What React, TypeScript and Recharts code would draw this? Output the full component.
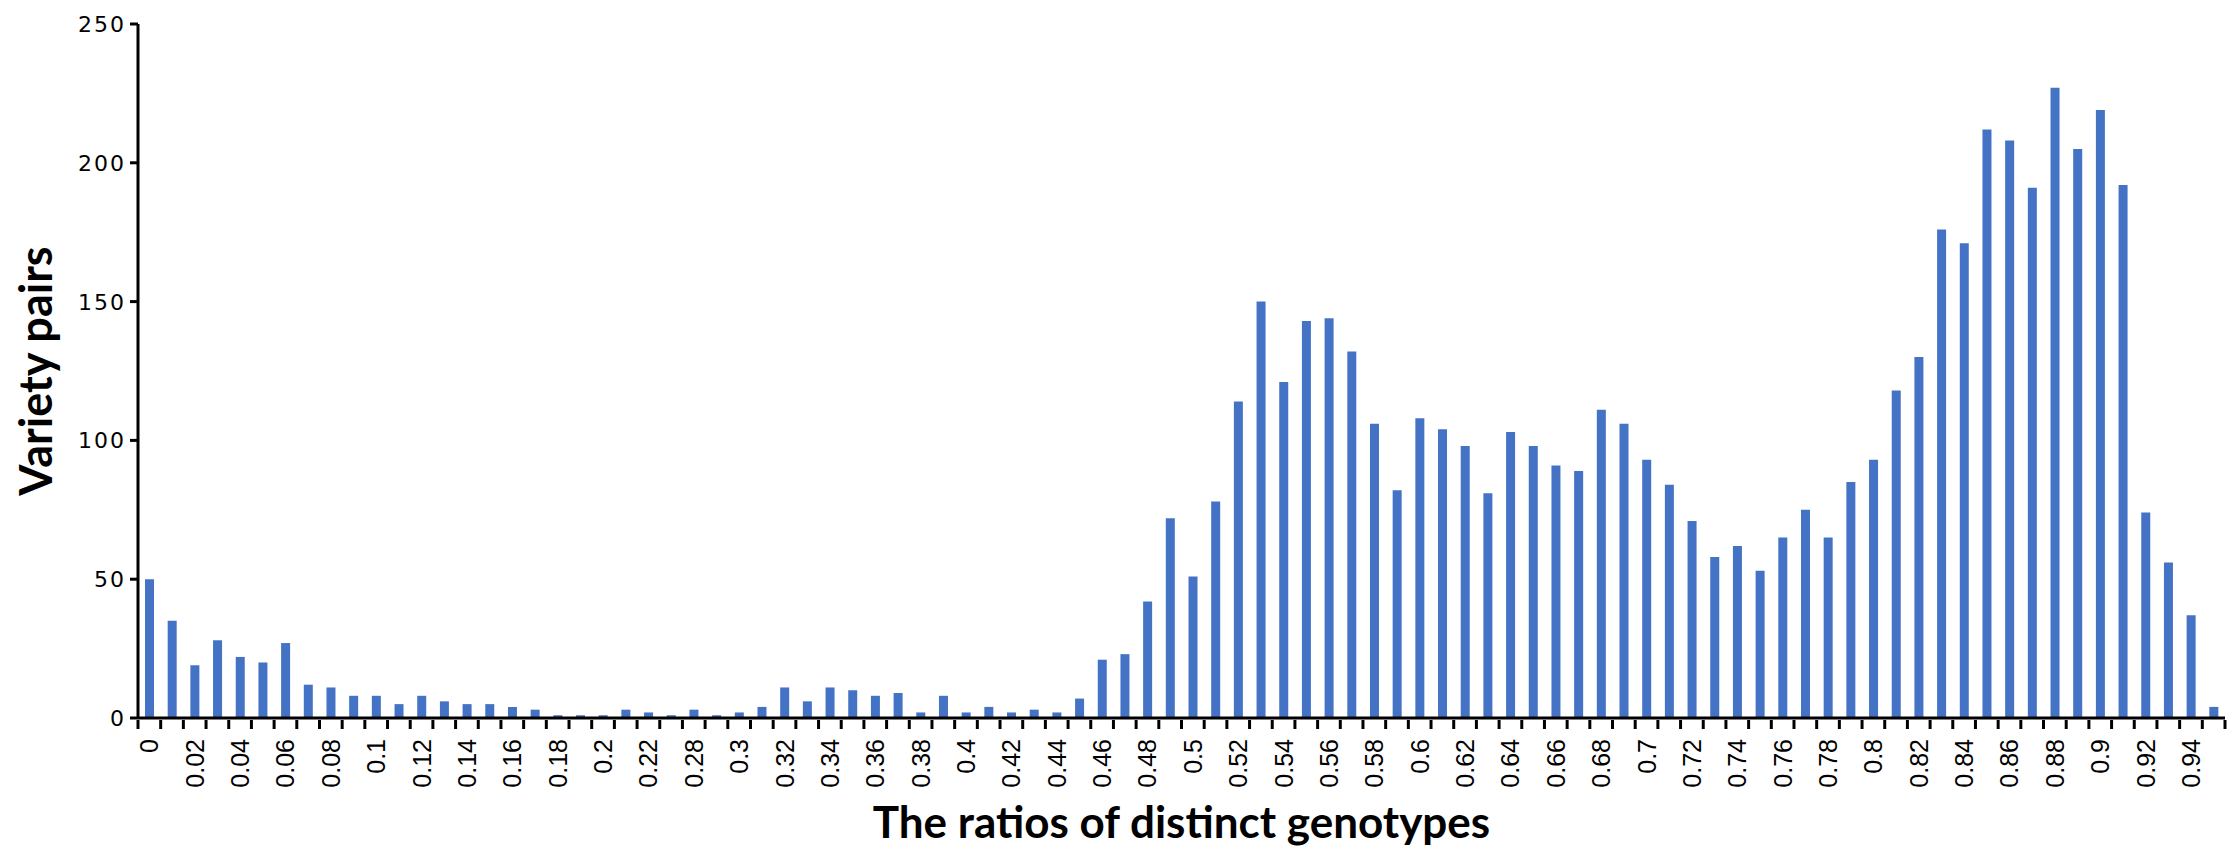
import React from 'react';
import { BarChart, Bar, XAxis, YAxis } from 'recharts';

// ratio categories (only every other one gets a printed label)
const ratios = [
  '0', '0.01', '0.02', '0.03', '0.04', '0.05', '0.06', '0.07', '0.08', '0.09',
  '0.1', '0.11', '0.12', '0.13', '0.14', '0.15', '0.16', '0.17', '0.18', '0.19',
  '0.2', '0.21', '0.22', '0.27', '0.28', '0.29',
  '0.3', '0.31', '0.32', '0.33', '0.34', '0.35', '0.36', '0.37', '0.38', '0.39',
  '0.4', '0.41', '0.42', '0.43', '0.44', '0.45', '0.46', '0.47', '0.48', '0.49',
  '0.5', '0.51', '0.52', '0.53', '0.54', '0.55', '0.56', '0.57', '0.58', '0.59',
  '0.6', '0.61', '0.62', '0.63', '0.64', '0.65', '0.66', '0.67', '0.68', '0.69',
  '0.7', '0.71', '0.72', '0.73', '0.74', '0.75', '0.76', '0.77', '0.78', '0.79',
  '0.8', '0.81', '0.82', '0.83', '0.84', '0.85', '0.86', '0.87', '0.88', '0.89',
  '0.9', '0.91', '0.92', '0.93', '0.94', '0.95',
];

const pairs = [
  50, 35, 19, 28, 22, 20, 27, 12, 11, 8,
  8, 5, 8, 6, 5, 5, 4, 3, 1, 1,
  1, 3, 2, 1, 3, 1,
  2, 4, 11, 6, 11, 10, 8, 9, 2, 8,
  2, 4, 2, 3, 2, 7, 21, 23, 42, 72,
  51, 78, 114, 150, 121, 143, 144, 132, 106, 82,
  108, 104, 98, 81, 103, 98, 91, 89, 111, 106,
  93, 84, 71, 58, 62, 53, 65, 75, 65, 85,
  93, 118, 130, 176, 171, 212, 208, 191, 227, 205,
  219, 192, 74, 56, 37, 4,
];

const yTicks = [0, 50, 100, 150, 200, 250];

const data = ratios.map((r, i) => ({ ratio: r, pairs: pairs[i] }));

const W = 2239;
const H = 850;
const Y_W = 138;
const RIGHT = 14;
const STEP = (W - Y_W - RIGHT) / ratios.length;

const XTick = (props: any) => {
  const { x, y, index, payload } = props;
  const half = STEP / 2;
  return (
    <g>
      <line x1={x - half} x2={x - half} y1={y} y2={y + 9} stroke="#000" strokeWidth={3} />
      {index === ratios.length - 1 && (
        <line x1={x + half} x2={x + half} y1={y} y2={y + 9} stroke="#000" strokeWidth={3} />
      )}
      {index % 2 === 0 && (
        <text
          x={x}
          y={y + 19}
          dy="0.36em"
          textAnchor="end"
          transform={`rotate(-90, ${x}, ${y + 19})`}
          fontFamily="'Liberation Sans', Arial, sans-serif"
          fontSize={25}
          fill="#000"
        >
          {payload.value}
        </text>
      )}
    </g>
  );
};

const YTick = (props: any) => {
  const { x, y, payload } = props;
  return (
    <text
      x={x}
      y={y}
      dy="0.36em"
      textAnchor="end"
      fontFamily="'DejaVu Sans', sans-serif"
      fontSize={22}
      style={{ letterSpacing: 2 }}
      fill="#000"
    >
      {payload.value}
    </text>
  );
};

const titleFont = "Lato, 'Open Sans', sans-serif";

export default function App() {
  return (
    <div style={{ position: 'absolute', left: 0, top: 0, background: '#fff' }}>
      <BarChart
        width={W}
        height={H}
        data={data}
        margin={{ top: 24, right: RIGHT, left: 0, bottom: 0 }}
      >
        <Bar dataKey="pairs" fill="#4472C4" barSize={9} isAnimationActive={false} />
        <XAxis
          dataKey="ratio"
          interval={0}
          height={132}
          tickSize={0}
          tickLine={false}
          tick={<XTick />}
          axisLine={{ stroke: '#000', strokeWidth: 3 }}
          label={(p: any) => (
            <text
              x={p.viewBox.x + p.viewBox.width / 2}
              y={p.viewBox.y + 120}
              textAnchor="middle"
              fontFamily={titleFont}
              fontWeight={700}
              fontSize={44}
              fill="#000"
            >
              The ratios of distinct genotypes
            </text>
          )}
        />
        <YAxis
          width={Y_W}
          domain={[0, 250]}
          ticks={yTicks}
          interval={0}
          tickSize={8}
          tickMargin={4}
          tickLine={{ stroke: '#000', strokeWidth: 3 }}
          axisLine={{ stroke: '#000', strokeWidth: 3 }}
          tick={<YTick />}
          label={(p: any) => {
            const lx = p.viewBox.x + 52;
            const ly = p.viewBox.y + p.viewBox.height / 2;
            return (
              <text
                x={lx}
                y={ly}
                textAnchor="middle"
                transform={`rotate(-90, ${lx}, ${ly})`}
                fontFamily={titleFont}
                fontWeight={700}
                fontSize={45}
                fill="#000"
              >
                Variety pairs
              </text>
            );
          }}
        />
      </BarChart>
    </div>
  );
}
